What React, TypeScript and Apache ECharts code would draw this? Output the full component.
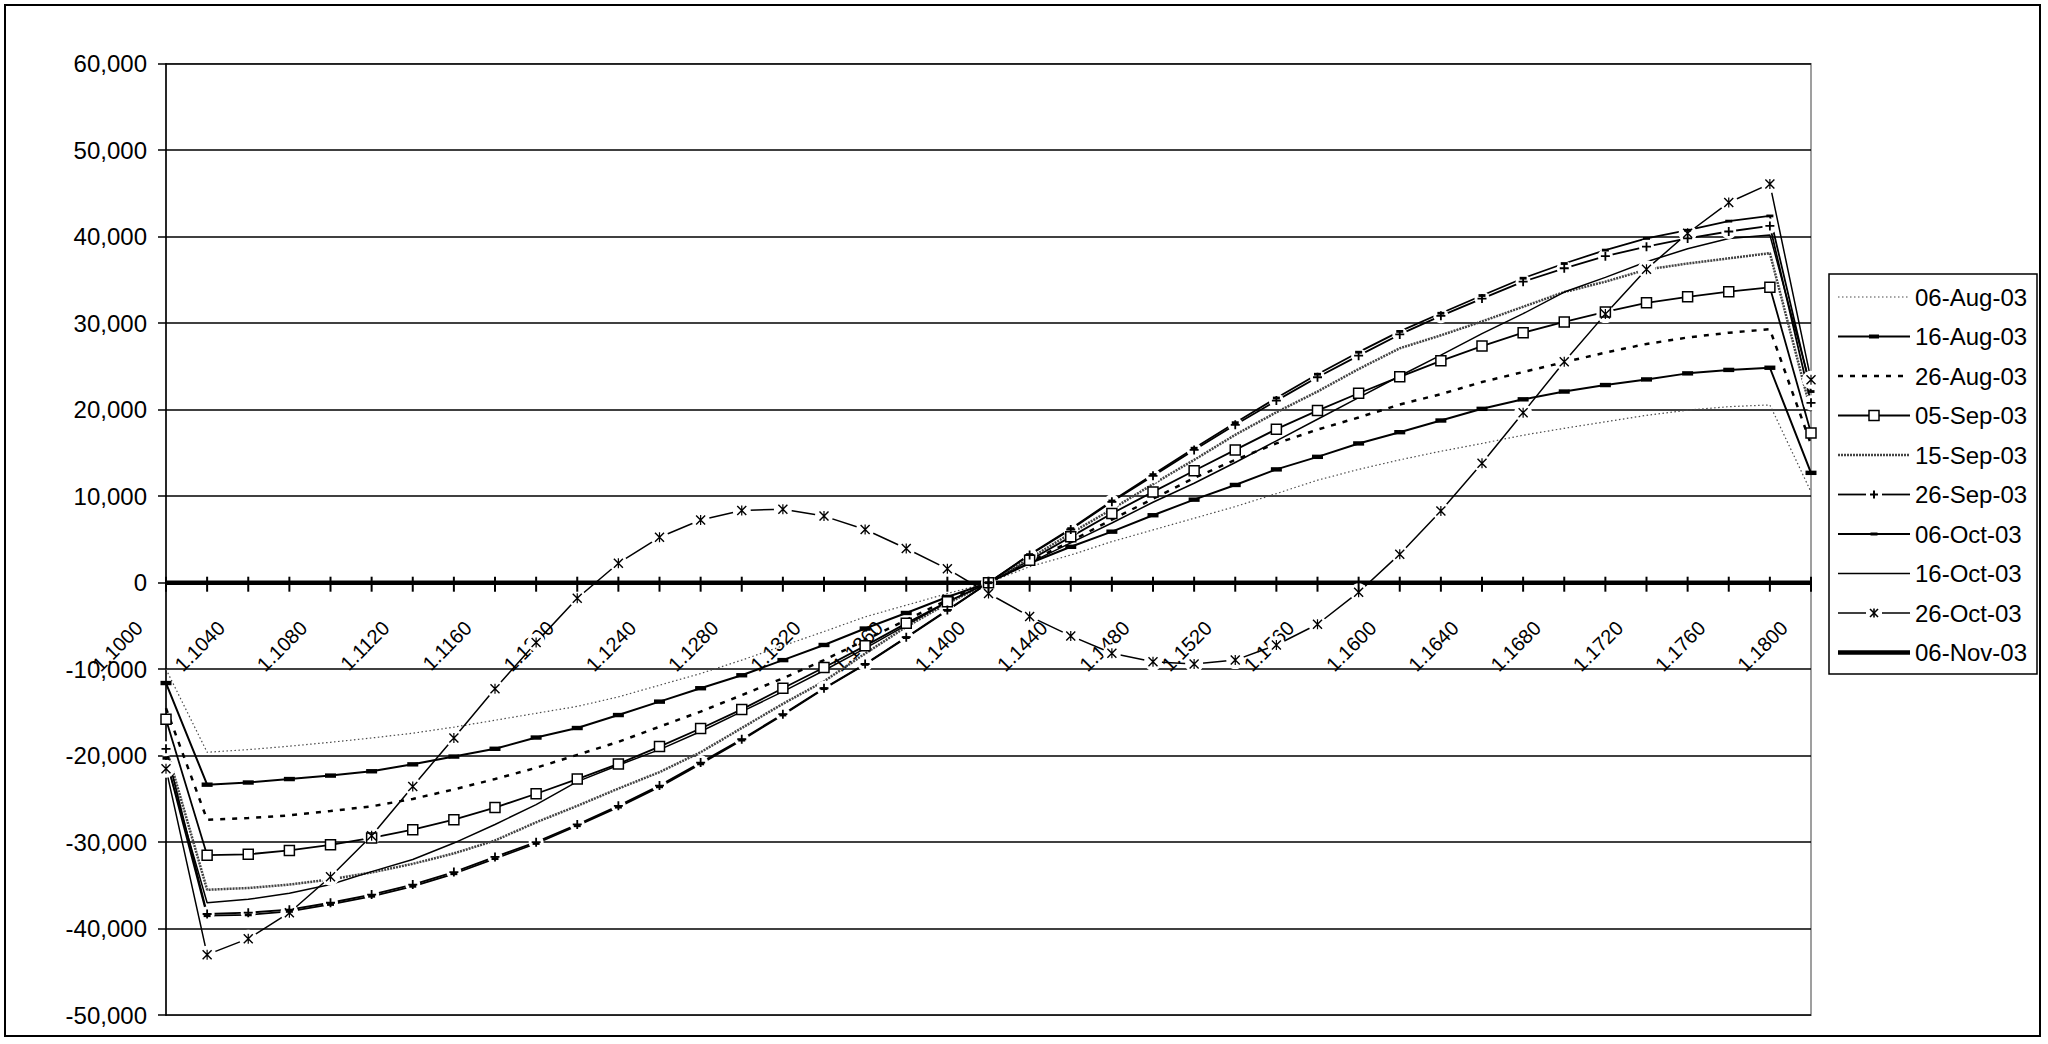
import React, { useEffect, useRef } from "react";
import * as echarts from "echarts";

const categories = [
  "1.1000", "1.1020", "1.1040", "1.1060", "1.1080", "1.1100", "1.1120", "1.1140", "1.1160", "1.1180",
  "1.1200", "1.1220", "1.1240", "1.1260", "1.1280", "1.1300", "1.1320", "1.1340", "1.1360", "1.1380",
  "1.1400", "1.1420", "1.1440", "1.1460", "1.1480", "1.1500", "1.1520", "1.1540", "1.1560", "1.1580",
  "1.1600", "1.1620", "1.1640", "1.1660", "1.1680", "1.1700", "1.1720", "1.1740", "1.1760", "1.1780",
  "1.1800",
];

const seriesNames = [
  "06-Aug-03", "16-Aug-03", "26-Aug-03", "05-Sep-03", "15-Sep-03",
  "26-Sep-03", "06-Oct-03", "16-Oct-03", "26-Oct-03", "06-Nov-03",
];

const aug06 = [
  -10000, -19600, -19300, -18900, -18450, -17950, -17400, -16700, -15900, -15100,
  -14300, -13200, -11850, -10500, -8950, -7300, -5650, -3950, -2600, -1250,
  0,
  1850, 3200, 4750, 6100, 7450, 8800, 10300, 11850, 13100, 14200,
  15200, 16100, 17050, 17850, 18600, 19350, 19950, 20350, 20550, 10500,
];
const aug16 = [
  -11600, -23350, -23100, -22700, -22300, -21800, -21000, -20100, -19200, -17900,
  -16800, -15300, -13750, -12200, -10700, -8950, -7200, -5300, -3500, -1650,
  0,
  2250, 4150, 5900, 7800, 9600, 11300, 13100, 14550, 16100, 17400,
  18750, 20100, 21200, 22100, 22850, 23500, 24200, 24600, 24850, 12700,
];
const aug26 = [
  -14500, -27400, -27200, -26900, -26400, -25850, -25000, -23900, -22700, -21400,
  -19900, -18400, -16650, -14900, -13000, -11050, -8950, -6650, -4300, -2000,
  0,
  2400, 4800, 7300, 9700, 12100, 14200, 16100, 17700, 19100, 20600,
  21800, 23200, 24350, 25500, 26600, 27600, 28350, 28900, 29300, 16000,
];
const sep05 = [
  -15800, -31500, -31400, -30950, -30300, -29500, -28550, -27400, -26000, -24400,
  -22700, -20950, -18950, -16850, -14650, -12200, -9800, -7300, -4700, -2200,
  0,
  2600, 5300, 8000, 10500, 12950, 15350, 17750, 19900, 21900, 23800,
  25650, 27350, 28900, 30150, 31300, 32350, 33050, 33650, 34150, 17300,
];
const sep15 = [
  -19000, -35500, -35300, -34900, -34300, -33500, -32500, -31300, -29800, -27700,
  -25800, -23800, -21900, -19600, -16800, -14000, -11400, -8200, -5100, -2400,
  0,
  2800, 5700, 8500, 11400, 14200, 17100, 19700, 22100, 24700, 27100,
  28600, 30200, 31900, 33600, 34800, 36200, 36900, 37500, 38100, 19800,
];
const sep26 = [
  -19200, -38300, -38150, -37800, -37000, -36050, -34900, -33450, -31700, -30000,
  -27950, -25800, -23450, -20800, -18100, -15200, -12200, -9400, -6300, -3150,
  0,
  3200, 6150, 9350, 12350, 15350, 18250, 21050, 23750, 26250, 28700,
  30850, 32850, 34800, 36350, 37750, 38850, 39800, 40600, 41250, 20800,
];
const oct06 = [
  -20300, -38500, -38400, -38000, -37200, -36250, -35100, -33650, -31900, -30150,
  -28100, -25950, -23600, -20950, -18200, -15300, -12250, -9450, -6350, -3200,
  0,
  3250, 6250, 9450, 12500, 15550, 18500, 21350, 24100, 26650, 29050,
  31150, 33200, 35200, 36900, 38450, 39800, 40750, 41800, 42400, 22100,
];
const oct16 = [
  -20500, -37000, -36600, -35900, -34900, -33400, -32000, -30100, -27950, -25650,
  -23000, -21100, -19300, -17200, -14900, -12600, -10150, -7600, -4900, -2250,
  0,
  2300, 4600, 6900, 9300, 11500, 13900, 16400, 18900, 21400, 23900,
  26300, 28800, 31100, 33600, 35300, 37100, 38600, 39800, 40200, 22600,
];
const oct26 = [
  -21500, -43000, -41150, -38150, -34000, -29250, -23550, -17950, -12250, -6900,
  -1800, 2250, 5250, 7250, 8350, 8500, 7700, 6150, 3950, 1600,
  -1250,
  -3900, -6150, -8150, -9150, -9400, -8950, -7200, -4800, -1100, 3300,
  8300, 13800, 19650, 25550, 31050, 36250, 40400, 43950, 46100, 23450,
];
const nov06 = [
  0, 0, 0, 0, 0, 0, 0, 0, 0, 0,
  0, 0, 0, 0, 0, 0, 0, 0, 0, 0,
  0,
  0, 0, 0, 0, 0, 0, 0, 0, 0, 0,
  0, 0, 0, 0, 0, 0, 0, 0, 0, 0,
];

const yMin = -50000;
const yMax = 60000;
const yStep = 10000;

const GRID_TOP = 63.7;
const GRID_BOTTOM_PX = 1015.2;
const CHART_H = 1044;
// distance (px) from the grid bottom up to the zero line
const ZERO_OFFSET = ((GRID_BOTTOM_PX - GRID_TOP) * (0 - yMin)) / (yMax - yMin);

const FONT = "Arial, Liberation Sans, sans-serif";
const BAR = "path://M0,0 M10,10 M0,3 L10,3 L10,7 L0,7 Z";
const PLUS = "path://M4,0 L6,0 L6,4 L10,4 L10,6 L6,6 L6,10 L4,10 L4,6 L0,6 L0,4 L4,4 Z";
const STAR =
  "path://M0,1 L1,0 L10,9 L9,10 Z M9,0 L10,1 L1,10 L0,9 Z M4.4,0 L5.6,0 L5.6,10 L4.4,10 Z";

type SDef = {
  name: string;
  data: number[];
  color: string;
  width: number;
  dash?: number[];
  symbol?: string;
  size?: number;
  hollow?: boolean;
  halo?: number;
  legendMark?: "bar" | "smallbar" | "square" | "plus" | "star";
};

const defs: SDef[] = [
  { name: seriesNames[0], data: aug06, color: "#4a4a4a", width: 1.2, dash: [1.5, 2.5] },
  { name: seriesNames[1], data: aug16, color: "#000", width: 2, symbol: BAR, size: 11, legendMark: "bar" },
  { name: seriesNames[2], data: aug26, color: "#000", width: 2.5, dash: [5, 7] },
  { name: seriesNames[3], data: sep05, color: "#000", width: 1.8, symbol: "rect", size: 10, hollow: true, legendMark: "square" },
  { name: seriesNames[4], data: sep15, color: "#444", width: 2.5, dash: [2, 1] },
  { name: seriesNames[5], data: sep26, color: "#000", width: 1.8, symbol: PLUS, size: 9, halo: 15, legendMark: "plus" },
  { name: seriesNames[6], data: oct06, color: "#000", width: 1.8, symbol: BAR, size: 7, legendMark: "smallbar" },
  { name: seriesNames[7], data: oct16, color: "#000", width: 1.5 },
  { name: seriesNames[8], data: oct26, color: "#000", width: 1.5, symbol: STAR, size: 10, halo: 18, legendMark: "star" },
  { name: seriesNames[9], data: nov06, color: "#000", width: 4.5 },
];

const LEG = { x: 1829, y: 274, w: 208, h: 400, row0: 297, gap: 39.5, x0: 1838, x1: 1910, cx: 1874, tx: 1915 };

function buildLegendGraphics(): any[] {
  const els: any[] = [];
  const { x0, x1, cx } = LEG;
  els.push({
    type: "rect",
    z: 100,
    shape: { x: LEG.x, y: LEG.y, width: LEG.w, height: LEG.h },
    style: { fill: "#fff", stroke: "#000", lineWidth: 1.5 },
  });
  defs.forEach((d, k) => {
    const cy = LEG.row0 + LEG.gap * k;
    const ls: any = { stroke: d.color, lineWidth: d.width };
    if (d.dash) ls.lineDash = d.dash;
    if (d.halo) {
      els.push({ type: "line", z: 101, shape: { x1: x0, y1: cy, x2: cx - 8, y2: cy }, style: ls });
      els.push({ type: "line", z: 101, shape: { x1: cx + 8, y1: cy, x2: x1, y2: cy }, style: ls });
    } else {
      els.push({ type: "line", z: 101, shape: { x1: x0, y1: cy, x2: x1, y2: cy }, style: ls });
    }
    const m = d.legendMark;
    if (m === "bar") {
      els.push({ type: "rect", z: 102, shape: { x: cx - 5, y: cy - 2, width: 10, height: 4 }, style: { fill: "#000" } });
    } else if (m === "smallbar") {
      els.push({ type: "rect", z: 102, shape: { x: cx - 3.5, y: cy - 1.5, width: 7, height: 3 }, style: { fill: "#000" } });
    } else if (m === "square") {
      els.push({ type: "rect", z: 102, shape: { x: cx - 5, y: cy - 5, width: 10, height: 10 }, style: { fill: "#fff", stroke: "#000", lineWidth: 1.5 } });
    } else if (m === "plus") {
      els.push({ type: "rect", z: 102, shape: { x: cx - 4, y: cy - 1, width: 8, height: 2 }, style: { fill: "#000" } });
      els.push({ type: "rect", z: 102, shape: { x: cx - 1, y: cy - 4, width: 2, height: 8 }, style: { fill: "#000" } });
    } else if (m === "star") {
      const st = { stroke: "#000", lineWidth: 1.6 };
      els.push({ type: "line", z: 102, shape: { x1: cx - 4, y1: cy - 4, x2: cx + 4, y2: cy + 4 }, style: st });
      els.push({ type: "line", z: 102, shape: { x1: cx + 4, y1: cy - 4, x2: cx - 4, y2: cy + 4 }, style: st });
      els.push({ type: "line", z: 102, shape: { x1: cx, y1: cy - 4.5, x2: cx, y2: cy + 4.5 }, style: st });
    }
  });
  return els;
}

function buildLegendTitles(): any[] {
  return defs.map((d, k) => {
    const cy = LEG.row0 + LEG.gap * k;
    return {
      text: d.name,
      left: LEG.tx,
      top: cy - 14,
      padding: 0,
      z: 110,
      textStyle: {
        fontSize: 24,
        fontWeight: "normal",
        fontFamily: FONT,
        color: "#000",
        lineHeight: 28,
      },
    };
  });
}

export default function App() {
  const ref = useRef<HTMLDivElement>(null);

  useEffect(() => {
    document.body.style.margin = "0";
    if (!ref.current) return;
    const chart = echarts.init(ref.current, undefined, { renderer: "svg" });

    const series: any[] = [];
    defs.forEach((d) => {
      series.push({
        type: "line",
        name: d.name,
        data: d.data,
        z: 2,
        symbol: "none",
        silent: true,
        lineStyle: { color: d.color, width: d.width, type: d.dash ? d.dash : "solid" },
        itemStyle: { color: d.color },
        emphasis: { disabled: true },
      });
    });
    defs.forEach((d) => {
      if (!d.halo) return;
      series.push({
        type: "line",
        name: d.name + "_halo",
        data: d.data,
        z: 3,
        symbol: "circle",
        symbolSize: d.halo,
        showSymbol: true,
        showAllSymbol: true,
        silent: true,
        lineStyle: { opacity: 0, width: 0 },
        itemStyle: { color: "#fff" },
        emphasis: { disabled: true },
      });
    });
    defs.forEach((d) => {
      if (!d.symbol) return;
      series.push({
        type: "line",
        name: d.name + "_mark",
        data: d.data,
        z: 4,
        symbol: d.symbol,
        symbolSize: d.size,
        showSymbol: true,
        showAllSymbol: true,
        silent: true,
        lineStyle: { opacity: 0, width: 0 },
        itemStyle: d.hollow
          ? { color: "#fff", borderColor: "#000", borderWidth: 1.5 }
          : { color: "#000" },
        emphasis: { disabled: true },
      });
    });
    series.push({
      type: "line",
      name: "_ticks",
      data: nov06,
      z: 5,
      symbol: "rect",
      symbolSize: [2, 15],
      symbolOffset: [0, 1.5],
      showSymbol: true,
      showAllSymbol: true,
      silent: true,
      lineStyle: { opacity: 0, width: 0 },
      itemStyle: { color: "#000" },
      emphasis: { disabled: true },
    });

    chart.setOption({
      animation: false,
      backgroundColor: "#fff",
      textStyle: { fontFamily: FONT },
      title: buildLegendTitles(),
      grid: {
        left: 166,
        right: 237,
        top: GRID_TOP,
        bottom: CHART_H - GRID_BOTTOM_PX,
        containLabel: false,
        outerBoundsMode: "none",
        show: true,
        borderColor: "#808080",
        borderWidth: 1.5,
        backgroundColor: "transparent",
      },
      xAxis: {
        type: "category",
        data: categories,
        boundaryGap: false,
        position: "bottom",
        offset: -ZERO_OFFSET,
        axisLine: { onZero: false, lineStyle: { color: "#000", width: 1.5 } },
        axisTick: { show: false },
        axisLabel: {
          interval: 1,
          rotate: 45,
          margin: 15,
          padding: [0, 38, 0, 0],
          fontSize: 20,
          fontFamily: FONT,
          color: "#000",
        },
        splitLine: { show: false },
      },
      yAxis: {
        type: "value",
        min: yMin,
        max: yMax,
        interval: yStep,
        axisLine: { show: true, lineStyle: { color: "#000", width: 1.5 } },
        axisTick: { show: true, length: 8, lineStyle: { color: "#000", width: 1.5 } },
        axisLabel: {
          margin: 19,
          fontSize: 24,
          fontFamily: FONT,
          color: "#000",
          formatter: (v: number) => v.toLocaleString("en-US"),
        },
        splitLine: { show: true, lineStyle: { color: "#000", width: 1.5 } },
      },
      series,
      graphic: [
        {
          type: "rect",
          z: 100,
          shape: { x: 5, y: 5, width: 2035, height: 1031 },
          style: { fill: "none", stroke: "#000", lineWidth: 2 },
        },
        ...buildLegendGraphics(),
      ],
    });

    return () => {
      chart.dispose();
    };
  }, []);

  return <div ref={ref} style={{ width: 2048, height: 1044 }} />;
}
